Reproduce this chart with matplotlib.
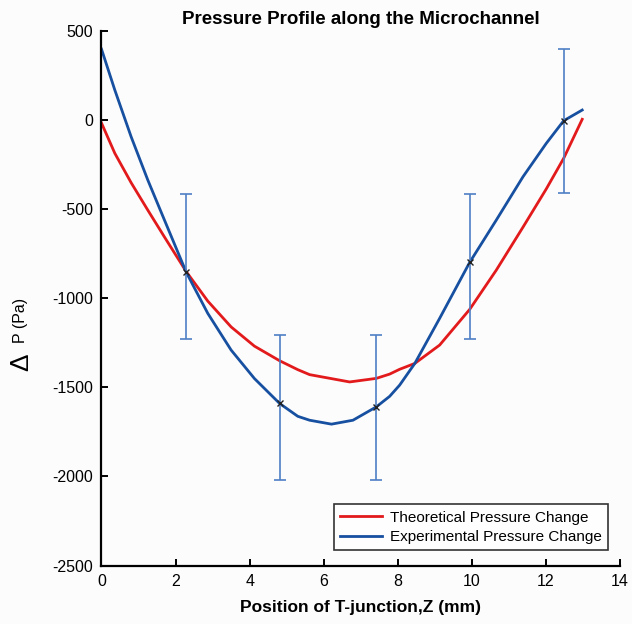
import matplotlib
matplotlib.use('Agg')
import matplotlib.pyplot as plt

plt.rcParams['font.family'] = ['Liberation Sans', 'DejaVu Sans']
plt.rcParams['axes.unicode_minus'] = False

# theoretical pressure change
theo_x = [0, 0.36, 0.80, 1.25, 1.70, 2.29, 2.87, 3.50, 4.13, 4.81, 5.30, 5.62, 6.70,
          7.42, 7.78, 8.05, 8.46, 9.13, 9.94, 10.66, 11.38, 12.01, 12.48, 12.98]
theo_y = [-15, -185, -350, -504, -655, -850, -1015, -1160, -1268, -1350, -1400, -1428, -1469,
          -1449, -1425, -1398, -1365, -1262, -1062, -841, -600, -385, -213, 6]

# experimental pressure change curve
exp_x = [0, 0.36, 0.80, 1.25, 1.70, 2.29, 2.87, 3.50, 4.13, 4.81, 5.30, 5.62, 6.21, 6.79,
         7.42, 7.78, 8.05, 8.46, 9.13, 9.94, 10.66, 11.38, 12.01, 12.48, 12.98]
exp_y = [400, 170, -92, -335, -560, -854, -1084, -1290, -1450, -1590, -1662, -1684, -1706, -1684,
         -1609, -1550, -1487, -1365, -1112, -798, -560, -317, -129, -2, 58]

# measured points with error bars
meas_x = [2.27, 4.82, 7.42, 9.96, 12.50]
meas_y = [-854, -1590, -1609, -798, -2]
bar_mid = [-820, -1613, -1612, -820, -4]
bar_err = [408, 407, 408, 408, 406]

fig = plt.figure(figsize=(6.32, 6.24), dpi=100, facecolor='#fcfcfc')
ax = fig.add_axes([0.1606, 0.0937, 0.8204, 0.8561], facecolor='#fcfcfc')

ax.plot(theo_x, theo_y, color='#e31a1c', lw=2.0, label='Theoretical Pressure Change')
ax.plot(exp_x, exp_y, color='#1750a0', lw=2.0, label='Experimental Pressure Change')
ax.errorbar(meas_x, bar_mid, yerr=bar_err, fmt='none', ecolor='#4f7fc4', elinewidth=1.2,
            capsize=4, capthick=1.2)
ax.plot(meas_x, meas_y, 'x', color='#222222', ms=5, mew=1.0)

ax.set_xlim(0, 14)
ax.set_ylim(-2500, 500)
ax.set_xticks(range(0, 15, 2))
ax.set_yticks(range(-2500, 501, 500))
ax.spines['top'].set_visible(False)
ax.spines['right'].set_visible(False)
for s in ['left', 'bottom']:
    ax.spines[s].set_linewidth(1.6)
ax.tick_params(direction='in', length=5, width=1.4, labelsize=11.5, pad=6)

ax.set_title('Pressure Profile along the Microchannel', fontsize=13.5, fontweight='bold', pad=5)
ax.set_xlabel('Position of T-junction,Z (mm)', fontsize=12.5, fontweight='bold', labelpad=8)

fig.text(21 / 632, 1 - 362 / 624, '\u0394', rotation=90, fontsize=19, ha='center', va='center')
fig.text(21 / 632, 1 - 320 / 624, 'P (Pa)', rotation=90, fontsize=11.5, ha='center', va='center')

leg = ax.legend(loc='lower right', bbox_to_anchor=(0.977, 0.029), borderaxespad=0, fontsize=11,
                frameon=True, fancybox=False, edgecolor='black', handlelength=2.8, borderpad=0.4,
                labelspacing=0.35, handletextpad=0.5)
leg.get_frame().set_linewidth(1.2)

fig.savefig('out.png', dpi=100, facecolor=fig.get_facecolor())
